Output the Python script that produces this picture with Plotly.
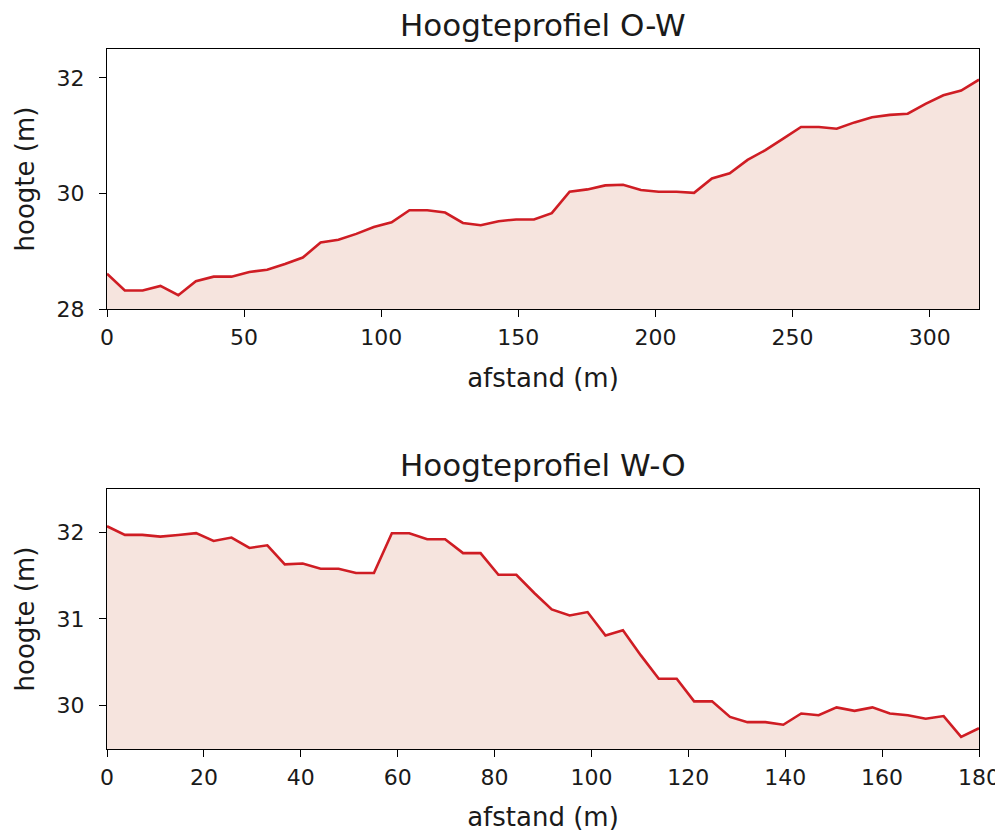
import plotly.graph_objects as go
from plotly.subplots import make_subplots

# --- data -------------------------------------------------------------
afstand_ow = [0, 6.5, 13.0, 19.5, 26.0, 32.4, 38.9, 45.4, 51.9, 58.4,
              64.9, 71.4, 77.9, 84.4, 90.9, 97.3, 103.8, 110.3, 116.8, 123.3,
              129.8, 136.3, 142.8, 149.2, 155.7, 162.2, 168.7, 175.2, 181.7, 188.2,
              194.7, 201.2, 207.7, 214.1, 220.6, 227.1, 233.6, 240.1, 246.6, 253.1,
              259.6, 266.1, 272.6, 279.0, 285.5, 292.0, 298.5, 305.0, 311.5, 318.0]
hoogte_ow = [28.61, 28.32, 28.32, 28.40, 28.24, 28.48, 28.56, 28.56, 28.64, 28.68,
             28.78, 28.89, 29.15, 29.20, 29.30, 29.42, 29.50, 29.71, 29.71, 29.67,
             29.49, 29.45, 29.52, 29.55, 29.55, 29.66, 30.03, 30.07, 30.14, 30.15,
             30.06, 30.03, 30.03, 30.01, 30.26, 30.35, 30.58, 30.75, 30.95, 31.15,
             31.15, 31.12, 31.23, 31.32, 31.36, 31.38, 31.55, 31.70, 31.78, 31.97]

afstand_wo = [0, 3.7, 7.3, 11.0, 14.7, 18.4, 22.0, 25.7, 29.4, 33.1,
              36.7, 40.4, 44.1, 47.8, 51.4, 55.1, 58.8, 62.4, 66.1, 69.8,
              73.5, 77.1, 80.8, 84.5, 88.2, 91.8, 95.5, 99.2, 102.9, 106.5,
              110.2, 113.9, 117.6, 121.2, 124.9, 128.6, 132.2, 135.9, 139.6, 143.3,
              146.9, 150.6, 154.3, 158.0, 161.6, 165.3, 169.0, 172.7, 176.3, 180.0]
hoogte_wo = [32.07, 31.97, 31.97, 31.95, 31.97, 31.99, 31.90, 31.94, 31.82, 31.85,
             31.63, 31.64, 31.58, 31.58, 31.53, 31.53, 31.99, 31.99, 31.92, 31.92,
             31.76, 31.76, 31.51, 31.51, 31.30, 31.11, 31.04, 31.08, 30.81, 30.87,
             30.58, 30.31, 30.31, 30.05, 30.05, 29.87, 29.81, 29.81, 29.78, 29.91,
             29.89, 29.98, 29.94, 29.98, 29.91, 29.89, 29.85, 29.88, 29.64, 29.74]

titels = ["Hoogteprofiel O-W", "Hoogteprofiel W-O"]
xlabel = "afstand (m)"
ylabel = "hoogte (m)"
yticks_ow = [28, 30, 32]
yticks_wo = [30, 31, 32]
xticks_ow = [0, 50, 100, 150, 200, 250, 300]
xticks_wo = [0, 20, 40, 60, 80, 100, 120, 140, 160, 180]

# --- style ------------------------------------------------------------
LINE = "#cf1d24"
FILL = "rgb(246,228,222)"
FONT = "DejaVu Sans"
TXT = "#1a1a1a"

fig = make_subplots(rows=2, cols=1, vertical_spacing=0.2571)

fig.add_trace(go.Scatter(x=afstand_ow, y=hoogte_ow, mode="lines", fill="tozeroy",
                         fillcolor=FILL, line=dict(color=LINE, width=2.6),
                         showlegend=False), row=1, col=1)
fig.add_trace(go.Scatter(x=afstand_wo, y=hoogte_wo, mode="lines", fill="tozeroy",
                         fillcolor=FILL, line=dict(color=LINE, width=2.6),
                         showlegend=False), row=2, col=1)

axis_common = dict(showline=True, linecolor="black", linewidth=1.3, mirror=True,
                   ticks="outside", ticklen=7, tickwidth=1.3, tickcolor="black",
                   showgrid=False, zeroline=False, automargin=False,
                   tickfont=dict(family=FONT, size=22, color=TXT))

fig.update_xaxes(**axis_common)
fig.update_yaxes(**axis_common)
fig.update_xaxes(ticklabelstandoff=1)
fig.update_yaxes(ticklabelstandoff=10)

xt = dict(text=xlabel, font=dict(family=FONT, size=26, color=TXT), standoff=20)
yt = dict(text=ylabel, font=dict(family=FONT, size=26, color=TXT), standoff=14)

fig.update_xaxes(range=[0, 318], tickvals=xticks_ow, title=xt, row=1, col=1)
fig.update_xaxes(range=[0, 180], tickvals=xticks_wo, title=xt, row=2, col=1)
fig.update_yaxes(range=[28, 32.5], tickvals=yticks_ow, title=yt, row=1, col=1)
fig.update_yaxes(range=[29.5, 32.5], tickvals=yticks_wo, title=yt, row=2, col=1)

fig.update_layout(
    width=995, height=824,
    margin=dict(l=99, r=24, t=41, b=83),
    paper_bgcolor="white", plot_bgcolor="white",
    annotations=[
        dict(text=titels[0], xref="x domain", yref="y domain", x=0.5, y=1,
             xanchor="center", yanchor="bottom", yshift=5, borderpad=0, showarrow=False,
             font=dict(family=FONT, size=31, color=TXT)),
        dict(text=titels[1], xref="x2 domain", yref="y2 domain", x=0.5, y=1,
             xanchor="center", yanchor="bottom", yshift=5, borderpad=0, showarrow=False,
             font=dict(family=FONT, size=31, color=TXT)),
    ],
)

fig.write_html("out.html")
